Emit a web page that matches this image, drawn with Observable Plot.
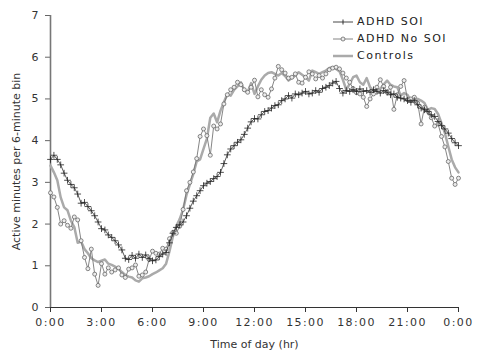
<!DOCTYPE html>
<html>
<head>
<meta charset="utf-8">
<script src="https://cdn.jsdelivr.net/npm/d3@7"></script>
<script src="https://cdn.jsdelivr.net/npm/@observablehq/plot@0.6"></script>
<style>
  html, body { margin: 0; padding: 0; background: #fff; }
  #wrap { position: relative; width: 487px; height: 361px; font-family: "DejaVu Sans", Verdana, sans-serif; }
  #legend { position: absolute; left: 333px; top: 13px; font-size: 11px; letter-spacing: 1.5px; color: #222; }
  #legend .row { display: flex; align-items: center; height: 17px; }
  #legend svg { margin-right: 4px; }
  .xt text { letter-spacing: 1.4px; }
  .xl text { letter-spacing: 1.3px; }
</style>
</head>
<body>
<div id="wrap"></div>
<script>
// Bin width (hours) used to place successive readings along the day
const binStep = 0.2;
const seriesNames = ["ADHD SOI", "ADHD No SOI", "Controls"];
const xTickHours = [0, 3, 6, 9, 12, 15, 18, 21, 24];
const xTickLabels = ["0:00", "3:00", "6:00", "9:00", "12:00", "15:00", "18:00", "21:00", "0:00"];
const yTicks = [0, 1, 2, 3, 4, 5, 6, 7];

const adhdSOI = [
  3.55, 3.65, 3.55, 3.42, 3.22, 3.05, 2.95, 2.87, 2.72, 2.50,
  2.52, 2.42, 2.32, 2.20, 2.05, 1.89, 1.86, 1.74, 1.68, 1.60,
  1.50, 1.38, 1.18, 1.15, 1.25, 1.18, 1.28, 1.20, 1.26, 1.17,
  1.12, 1.14, 1.22, 1.28, 1.32, 1.55, 1.78, 1.92, 1.98, 2.05,
  2.20, 2.38, 2.55, 2.68, 2.80, 2.92, 2.98, 3.02, 3.09, 3.14,
  3.24, 3.45, 3.66, 3.80, 3.88, 3.96, 4.02, 4.15, 4.30, 4.45,
  4.53, 4.52, 4.62, 4.70, 4.72, 4.78, 4.84, 4.86, 4.96, 5.00,
  5.08, 5.02, 5.12, 5.10, 5.14, 5.18, 5.12, 5.14, 5.20, 5.16,
  5.25, 5.28, 5.32, 5.38, 5.42, 5.25, 5.14, 5.20, 5.18, 5.22,
  5.18, 5.24, 5.18, 5.20, 5.16, 5.22, 5.18, 5.14, 5.20, 5.16,
  5.10, 5.12, 5.04, 5.02, 5.00, 4.96, 4.92, 4.96, 4.86, 4.78,
  4.74, 4.70, 4.62, 4.58, 4.46, 4.36, 4.28, 4.18, 4.05, 3.95,
  3.88
];

const adhdNoSOI = [
  2.75, 2.65, 2.40, 2.00, 2.08, 1.97, 1.90, 2.17, 2.10, 1.60,
  1.20, 0.93, 1.40, 0.80, 0.53, 1.05, 0.80, 0.95, 0.85, 0.90,
  0.95, 0.78, 0.72, 0.92, 0.95, 1.02, 0.75, 0.78, 0.85, 1.15,
  1.35, 1.30, 1.28, 1.42, 1.40, 1.65, 1.80, 1.78, 1.95, 2.35,
  2.80, 3.00, 3.25, 3.57, 4.10, 4.28, 4.12, 3.65, 4.35, 4.28,
  4.40, 4.88, 5.10, 5.22, 5.28, 5.40, 5.34, 5.22, 5.16, 5.28,
  5.45, 5.05, 5.22, 5.10, 5.04, 5.24, 5.50, 5.78, 5.70, 5.62,
  5.50, 5.52, 5.60, 5.40, 5.38, 5.52, 5.65, 5.60, 5.48, 5.56,
  5.50, 5.60, 5.70, 5.74, 5.76, 5.72, 5.62, 5.50, 5.40, 5.25,
  5.15, 5.12, 5.04, 4.82, 5.00, 5.12, 5.28, 5.46, 5.30, 5.16,
  5.28, 4.75, 5.10, 5.30, 5.44, 4.98, 5.00, 5.04, 4.90, 4.40,
  4.80, 4.70, 4.55, 4.35, 4.40, 4.10, 3.85, 3.50, 3.10, 2.95,
  3.10
];

const controls = [
  3.40, 3.24, 3.05, 2.64, 2.40, 2.33, 2.08, 1.93, 1.55, 1.58,
  1.40, 1.30, 1.18, 1.13, 1.09, 1.12, 1.15, 1.05, 1.02, 0.98,
  0.93, 0.85, 0.78, 0.74, 0.72, 0.65, 0.62, 0.70, 0.72, 0.75,
  0.80, 0.84, 0.89, 0.94, 1.05, 1.35, 1.70, 1.95, 2.12, 2.35,
  2.70, 2.95, 3.20, 3.50, 3.55, 3.80, 4.05, 4.55, 4.65, 4.44,
  4.72, 4.92, 5.12, 5.08, 5.22, 5.30, 5.40, 5.20, 5.16, 5.38,
  5.12, 5.30, 5.46, 5.56, 5.62, 5.64, 5.60, 5.56, 5.62, 5.55,
  5.44, 5.50, 5.56, 5.64, 5.58, 5.52, 5.44, 5.68, 5.64, 5.60,
  5.64, 5.68, 5.74, 5.76, 5.72, 5.66, 5.46, 5.22, 5.36, 5.52,
  5.56, 5.40, 5.34, 5.50, 5.28, 5.20, 5.22, 5.24, 5.35, 5.44,
  5.34, 5.30, 5.28, 5.08, 5.14, 5.10, 4.96, 5.02, 5.00, 4.96,
  4.90, 4.74, 4.78, 4.76, 4.64, 4.42, 4.18, 3.86, 3.55, 3.36,
  3.24
];

const toRows = (vals, name) => vals.map((v, i) => ({hour: i * binStep, value: v, series: name}));
const soiRows = toRows(adhdSOI, seriesNames[0]);
const noSoiRows = toRows(adhdNoSOI, seriesNames[1]);
const ctrlRows = toRows(controls, seriesNames[2]);

const font = '"DejaVu Sans", Verdana, sans-serif';
const tickLabel = new Map(xTickHours.map((h, i) => [h, xTickLabels[i]]));

const chart = Plot.plot({
  width: 487,
  height: 361,
  marginLeft: 50,
  marginRight: 29,
  marginTop: 15,
  marginBottom: 54,
  style: {fontFamily: font, fontSize: "11px", color: "#333", background: "#fff"},
  x: {domain: [0, 24]},
  y: {domain: [0, 7]},
  marks: [
    Plot.axisX({ticks: xTickHours, tickFormat: d => tickLabel.get(d), tickSize: 5, tickPadding: 6,
      stroke: "#333", fill: "#333", fontSize: 11, className: "xt", label: null}),
    Plot.axisX({ticks: [], label: "Time of day (hr)", labelAnchor: "center", labelArrow: "none",
      labelOffset: 40, fill: "#333", fontSize: 11, className: "xl", tickSize: 0}),
    Plot.axisY({ticks: yTicks, tickFormat: d => String(d), tickSize: 5, tickPadding: 7, stroke: "#666", fill: "#333", fontSize: 11,
      label: "Active minutes per 6-minute bin", labelAnchor: "center", labelArrow: "none", labelOffset: 38}),
    Plot.ruleX([0], {stroke: "#777", strokeWidth: 1.6}),
    Plot.ruleY([0], {stroke: "#333", strokeWidth: 1}),
    Plot.line(ctrlRows, {x: "hour", y: "value", stroke: "#aaaaaa", strokeWidth: 2.5}),
    Plot.line(noSoiRows, {x: "hour", y: "value", stroke: "#777", strokeWidth: 0.9}),
    Plot.dot(noSoiRows, {x: "hour", y: "value", r: 2, stroke: "#6a6a6a", strokeWidth: 0.8, fill: "#ececec"}),
    Plot.line(soiRows, {x: "hour", y: "value", stroke: "#333", strokeWidth: 0.8}),
    Plot.dot(soiRows, {x: "hour", y: "value", symbol: "plus", r: 2.3, stroke: "#222", strokeWidth: 0.8})
  ]
});

const wrap = document.getElementById("wrap");
wrap.appendChild(chart);

// Legend (HTML overlay)
const legend = document.createElement("div");
legend.id = "legend";
const swatches = [
  `<svg width="20" height="10"><line x1="0" y1="5" x2="20" y2="5" stroke="#333" stroke-width="0.9"/><path d="M10,2.5V7.5" stroke="#222" stroke-width="0.9"/></svg>`,
  `<svg width="20" height="10"><line x1="0" y1="5" x2="20" y2="5" stroke="#777" stroke-width="0.9"/><circle cx="10" cy="5" r="2" fill="#ececec" stroke="#6a6a6a" stroke-width="0.8"/></svg>`,
  `<svg width="20" height="10"><line x1="0" y1="5" x2="20" y2="5" stroke="#aaaaaa" stroke-width="2.5"/></svg>`
];
legend.innerHTML = seriesNames.map((n, i) => `<div class="row">${swatches[i]}<span>${n}</span></div>`).join("");
wrap.appendChild(legend);
</script>
</body>
</html>
